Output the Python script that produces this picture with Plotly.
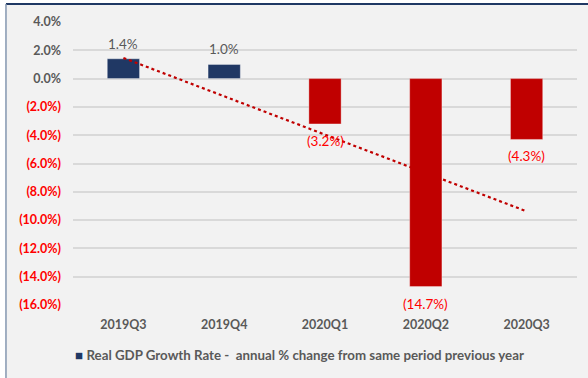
import plotly.graph_objects as go

# Quarterly real GDP growth (annual % change)
quarters = ["2019Q3", "2019Q4", "2020Q1", "2020Q2", "2020Q3"]
growth = [1.4, 1.0, -3.2, -14.7, -4.3]

y_ticks = [4, 2, 0, -2, -4, -6, -8, -10, -12, -14, -16]

series_name = "Real GDP Growth Rate -\u00a0\u00a0annual % change from same period previous year"

NAVY = "#203864"
RED_BAR = "#c00000"
RED_TEXT = "#ff0000"
GREY_TEXT = "#595959"
FONT = "Lato"


def pct_label(v):
    return f"{v:.1f}%" if v >= 0 else f"({abs(v):.1f}%)"


def tick_label(v):
    txt = f"<b>{pct_label(float(v))}</b>"
    if v < 0:
        return f"<span style='color:{RED_TEXT}'>{txt}</span>"
    return txt


# Linear trend fitted over the quarter index
n = len(growth)
xs = list(range(1, n + 1))
mx = sum(xs) / n
my = sum(growth) / n
slope = sum((x - mx) * (y - my) for x, y in zip(xs, growth)) / sum((x - mx) ** 2 for x in xs)
trend = [my + slope * (x - mx) for x in xs]

fig = go.Figure()

fig.add_trace(go.Scatter(
    x=quarters, y=trend, mode="lines",
    line=dict(color=RED_BAR, width=2.2, dash="dot"),
    showlegend=False, hoverinfo="skip",
))

fig.add_trace(go.Bar(
    x=quarters, y=growth,
    name=series_name,
    marker=dict(color=[NAVY if v >= 0 else RED_BAR for v in growth],
                line=dict(color="rgba(255,255,255,0.35)", width=1)),
    width=0.32,
    showlegend=False,
))

# Value labels: above positive bars, below negative bars
annotations = []
for q, v in zip(quarters, growth):
    pos = v >= 0
    annotations.append(dict(
        x=q, y=v, xref="x", yref="y",
        text=pct_label(v), showarrow=False,
        yanchor="bottom" if pos else "top",
        yshift=5 if pos else -7,
        font=dict(family=FONT, size=13.5, color=GREY_TEXT if pos else RED_TEXT),
    ))

# Series key below the category labels
annotations.append(dict(
    xref="paper", yref="paper", x=0.0, y=-0.178,
    xanchor="left", yanchor="middle", showarrow=False,
    text=f"<span style='color:{NAVY}'>■</span> <b>{series_name}</b>",
    font=dict(family=FONT, size=13.3, color=GREY_TEXT),
))

fig.update_layout(
    width=588, height=378,
    margin=dict(l=73, r=11, t=22, b=73),
    paper_bgcolor="white",
    plot_bgcolor="#f2f2f2",
    font=dict(family=FONT, color=GREY_TEXT),
    bargap=0.68,
    showlegend=False,
    annotations=annotations,
    shapes=[
        dict(type="rect", xref="paper", yref="paper", x0=-0.133, x1=1.1, y0=-0.4, y1=1.0636,
             fillcolor="#f2f2f2", line=dict(width=0), layer="below"),
        dict(type="line", xref="paper", yref="paper", x0=-0.133, x1=1.1, y0=1.0636, y1=1.0636,
             line=dict(color="#1f3864", width=2)),
        dict(type="line", xref="paper", yref="paper", x0=-0.133, x1=-0.133, y0=-0.4, y1=1.0636,
             line=dict(color="#8497b0", width=1.5)),
    ],
)

fig.update_xaxes(
    type="category",
    tickfont=dict(family=FONT, size=12.5, color=GREY_TEXT, weight="bold"),
    showgrid=False, zeroline=False, showline=False,
    ticks="", ticklabelstandoff=10,
)

fig.update_yaxes(
    range=[-16, 4],
    tickvals=y_ticks,
    ticktext=[tick_label(v) for v in y_ticks],
    tickfont=dict(family=FONT, size=12.5, color=GREY_TEXT),
    showgrid=True, gridcolor="#d9d9d9", gridwidth=1.5,
    zeroline=True, zerolinecolor="#d9d9d9", zerolinewidth=1.5,
    showline=False, ticks="", ticklabelstandoff=11,
)

fig.write_html("out.html")
